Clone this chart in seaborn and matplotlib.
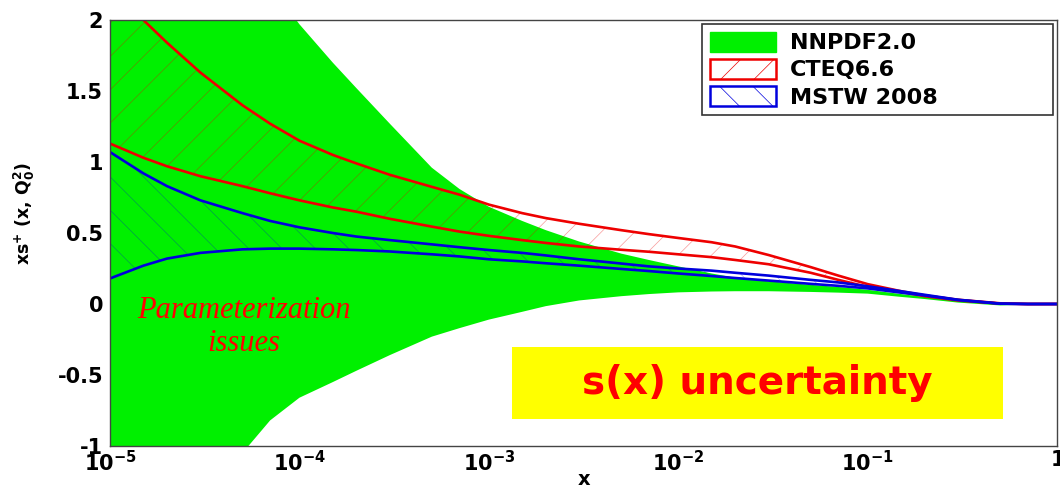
import matplotlib
matplotlib.use("Agg")
import matplotlib.pyplot as plt
from matplotlib.patches import Patch, Rectangle
from matplotlib.ticker import NullFormatter
import seaborn as sns

# x grid shared by every band
x_vals = [1e-5, 1.5e-5, 2e-5, 3e-5, 5e-5, 7e-5, 1e-4, 1.5e-4, 2e-4, 3e-4, 5e-4, 7e-4,
          1e-3, 1.5e-3, 2e-3, 3e-3, 5e-3, 7e-3, 1e-2, 1.5e-2, 2e-2, 3e-2, 5e-2, 7e-2,
          0.1, 0.15, 0.2, 0.3, 0.5, 0.7, 1.0]

# NNPDF2.0 band
nnpdf_hi = [5.0, 4.2, 3.8, 3.2, 2.6, 2.25, 1.97, 1.7, 1.52, 1.27, 0.96, 0.81,
            0.685, 0.585, 0.52, 0.44, 0.355, 0.31, 0.265, 0.215, 0.185, 0.16, 0.135, 0.12,
            0.1, 0.07, 0.05, 0.02, 0.0, 0.0, 0.0]
nnpdf_lo = [-4.0, -3.2, -2.6, -1.9, -1.05, -0.82, -0.66, -0.55, -0.47, -0.36, -0.23, -0.17,
            -0.11, -0.055, -0.015, 0.025, 0.055, 0.07, 0.082, 0.088, 0.09, 0.09, 0.085, 0.08,
            0.073, 0.05, 0.035, 0.01, -0.01, -0.005, 0.0]

# CTEQ6.6 band
cteq_hi = [2.25, 2.0, 1.84, 1.63, 1.40, 1.27, 1.15, 1.05, 0.99, 0.91, 0.825, 0.77,
           0.70, 0.64, 0.605, 0.565, 0.52, 0.492, 0.465, 0.435, 0.405, 0.345, 0.26, 0.2,
           0.14, 0.09, 0.06, 0.03, 0.005, 0.0, 0.0]
cteq_lo = [1.13, 1.03, 0.97, 0.9, 0.83, 0.78, 0.73, 0.68, 0.65, 0.6, 0.545, 0.51,
           0.48, 0.45, 0.43, 0.405, 0.382, 0.368, 0.35, 0.33, 0.31, 0.28, 0.22, 0.17,
           0.12, 0.085, 0.055, 0.025, 0.003, 0.0, 0.0]

# MSTW 2008 band
mstw_hi = [1.07, 0.92, 0.83, 0.73, 0.64, 0.585, 0.54, 0.5, 0.475, 0.45, 0.42, 0.40,
           0.38, 0.36, 0.342, 0.315, 0.285, 0.265, 0.25, 0.235, 0.22, 0.2, 0.17, 0.152,
           0.125, 0.09, 0.065, 0.03, 0.003, 0.0, 0.0]
mstw_lo = [0.18, 0.27, 0.32, 0.36, 0.385, 0.39, 0.39, 0.385, 0.38, 0.37, 0.35, 0.335,
           0.315, 0.30, 0.287, 0.27, 0.247, 0.232, 0.215, 0.197, 0.183, 0.165, 0.142, 0.128,
           0.11, 0.08, 0.06, 0.028, 0.002, 0.0, 0.0]

x_ticks = [1e-5, 1e-4, 1e-3, 1e-2, 1e-1, 1]
x_tick_labels = ["$10^{-5}$", "$10^{-4}$", "$10^{-3}$", "$10^{-2}$", "$10^{-1}$", "$1$"]
y_ticks = [-1, -0.5, 0, 0.5, 1, 1.5, 2]
y_tick_labels = ["-1", "-0.5", "0", "0.5", "1", "1.5", "2"]

sns.set_style("white")
plt.rcParams["font.family"] = ["DejaVu Sans"]
plt.rcParams["font.weight"] = "bold"
plt.rcParams["mathtext.fontset"] = "dejavusans"
plt.rcParams["mathtext.default"] = "bf"
plt.rcParams["hatch.linewidth"] = 0.5
for key in ["text.color", "axes.labelcolor", "xtick.color", "ytick.color"]:
    plt.rcParams[key] = "black"

green = "#00f000"
red = "#ee0000"
blue = "#0000dd"

fig = plt.figure(figsize=(10.6, 4.87), dpi=100)
ax = fig.add_axes([0.1038, 0.0842, 0.8934, 0.8747])
ax.set_axisbelow(True)

ax.fill_between(x_vals, nnpdf_lo, nnpdf_hi, color=green, linewidth=0)
ax.fill_between(x_vals, cteq_lo, cteq_hi, facecolor="none",
                edgecolor=(0.93, 0, 0, 0.4), hatch="/", linewidth=0)
ax.fill_between(x_vals, mstw_lo, mstw_hi, facecolor="none",
                edgecolor=(0, 0, 0.87, 0.35), hatch="\\", linewidth=0)

for ys, col in [(cteq_hi, red), (cteq_lo, red), (mstw_hi, blue), (mstw_lo, blue)]:
    sns.lineplot(x=x_vals, y=ys, color=col, linewidth=1.9, ax=ax, legend=False)

ax.set_xscale("log")
ax.set_xlim(1e-5, 1)
ax.set_ylim(-1, 2)
ax.set_xticks(x_ticks)
ax.set_xticklabels(x_tick_labels)
ax.xaxis.set_minor_formatter(NullFormatter())
ax.set_yticks(y_ticks)
ax.set_yticklabels(y_tick_labels)
ax.tick_params(axis="x", which="major", direction="in", length=8.5, width=1,
               labelsize=15, pad=3)
ax.tick_params(axis="x", which="minor", direction="in", length=4, width=1)
ax.tick_params(axis="y", direction="in", length=6, labelsize=15, pad=5)
for s in ax.spines.values():
    s.set_color("#444444")
    s.set_linewidth(1.0)

ax.set_ylabel(r"$xs^{+}$ (x, $Q_0^2$)", fontsize=12.5, fontweight="bold")
ax.yaxis.set_label_coords(-0.077, 0.545)
ax.set_xlabel("x", fontsize=14, fontweight="bold", va="top")
ax.xaxis.set_label_coords(0.5, -0.056)

ax.text(0.141, 0.28, "Parameterization\nissues", transform=ax.transAxes,
        ha="center", va="center", color="red", fontsize=22, style="italic",
        fontweight="normal", family="Liberation Serif", linespacing=1.2)

ax.add_patch(Rectangle((0.4245, 0.063), 0.5185, 0.169, transform=ax.transAxes,
                       facecolor="#ffff00", edgecolor="none", zorder=4))
ax.text(0.683, 0.148, "s(x) uncertainty", transform=ax.transAxes, ha="center",
        va="center", color="red", fontsize=28, fontweight="bold", zorder=5)

handles = [
    Patch(facecolor=green, edgecolor=green, label="NNPDF2.0"),
    Patch(facecolor="white", edgecolor=red, hatch="/", linewidth=1.8, label="CTEQ6.6"),
    Patch(facecolor="white", edgecolor=blue, hatch="\\", linewidth=1.8, label="MSTW 2008"),
]
leg = ax.legend(handles=handles, loc="upper left", bbox_to_anchor=(0.625, 0.9906, 0.3707, 0.0),
                mode="expand", fontsize=16, frameon=True, fancybox=False,
                edgecolor="#333333", framealpha=1, handlelength=3.0, handleheight=1.0,
                labelspacing=0.25, borderpad=0.35, handletextpad=0.6, borderaxespad=0)
leg.get_frame().set_linewidth(1.2)
for t in leg.get_texts():
    t.set_fontweight("bold")

fig.savefig("out.png", dpi=100)
